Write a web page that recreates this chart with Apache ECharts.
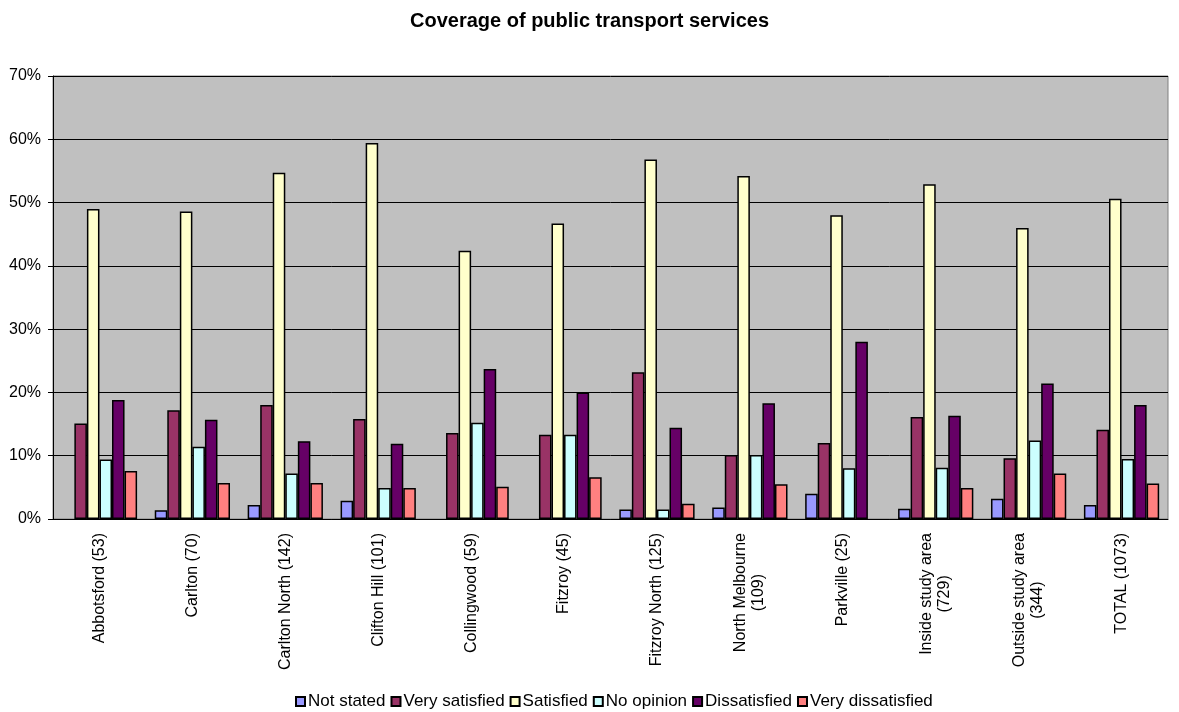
<!DOCTYPE html>
<html>
<head>
<meta charset="utf-8">
<script src="https://cdn.jsdelivr.net/npm/echarts@6/dist/echarts.min.js"></script>
<style>
  html, body { margin: 0; padding: 0; background: #ffffff; }
  #chart { width: 1179px; height: 712px; }
</style>
</head>
<body>
<div id="chart"></div>
<script>
// Suburbs surveyed (respondent counts in brackets)
const categories = [
  'Abbotsford (53)', 'Carlton (70)', 'Carlton North (142)', 'Clifton Hill (101)',
  'Collingwood (59)', 'Fitzroy (45)', 'Fitzroy North (125)', 'North Melbourne\n(109)',
  'Parkville (25)', 'Inside study area\n(729)', 'Outside study area\n(344)', 'TOTAL (1073)'
];

// Share of respondents (%) per response
const notStated        = [0,    1.4,  2.2,  2.9,  0,    0,    1.5,  1.8,  4.0,  1.6,  3.2,  2.2];
const verySatisfied    = [15.1, 17.2, 18.0, 15.8, 13.6, 13.3, 23.2, 10.1, 12.0, 16.1, 9.6,  14.1];
const satisfied        = [49.0, 48.6, 54.7, 59.4, 42.4, 46.7, 56.8, 54.2, 48.0, 52.9, 46.0, 50.6];
const noOpinion        = [9.4,  11.4, 7.2,  4.9,  15.2, 13.3, 1.5,  10.1, 8.0,  8.1,  12.4, 9.5];
const dissatisfied     = [18.8, 15.7, 12.3, 11.9, 23.7, 20.0, 14.4, 18.3, 28.0, 16.3, 21.4, 18.0];
const veryDissatisfied = [7.6,  5.7,  5.7,  4.9,  5.1,  6.6,  2.4,  5.5,  0,    4.9,  7.2,  5.6];

const yTicks = { min: 0, max: 70, step: 10 };

const seriesDefs = [
  { name: 'Not stated',        data: notStated,        color: '#9999FF' },
  { name: 'Very satisfied',    data: verySatisfied,    color: '#993366' },
  { name: 'Satisfied',         data: satisfied,        color: '#FFFFCC' },
  { name: 'No opinion',        data: noOpinion,        color: '#CCFFFF' },
  { name: 'Dissatisfied',      data: dissatisfied,     color: '#660066' },
  { name: 'Very dissatisfied', data: veryDissatisfied, color: '#FF8080' }
];

const FONT = '"Liberation Sans", Arial, sans-serif';

const chart = echarts.init(document.getElementById('chart'), null, { renderer: 'canvas' });

chart.setOption({
  animation: false,
  backgroundColor: '#ffffff',
  title: {
    text: 'Coverage of public transport services',
    left: 'center',
    top: 6,
    textStyle: { fontFamily: FONT, fontSize: 20, fontWeight: 'bold', color: '#000' }
  },
  legend: {
    top: 688,
    left: 290,
    icon: 'rect',
    itemWidth: 9,
    itemHeight: 9,
    itemGap: 5,
    textStyle: { fontFamily: FONT, fontSize: 17, color: '#000', padding: [0, 0, 0, -2] },
    data: seriesDefs.map(s => s.name)
  },
  grid: {
    left: 53, right: 11, top: 76, bottom: 193,
    show: true,
    backgroundColor: '#c0c0c0',
    borderColor: '#808080',
    borderWidth: 1
  },
  xAxis: {
    type: 'category',
    data: categories,
    axisLine: { lineStyle: { color: '#000', width: 1 } },
    axisTick: { length: 7, lineStyle: { color: '#000' } },
    axisLabel: {
      rotate: 90,
      margin: 14,
      interval: 0,
      color: '#000',
      fontFamily: FONT,
      fontSize: 16,
      formatter: v => v.split('\n').map(l => '{a|' + l + '}').join('\n'),
      rich: { a: { align: 'center', fontFamily: FONT, fontSize: 16, color: '#000', lineHeight: 18 } }
    }
  },
  yAxis: {
    type: 'value',
    min: yTicks.min,
    max: yTicks.max,
    interval: yTicks.step,
    axisLine: { show: true, lineStyle: { color: '#000', width: 1 } },
    axisTick: { show: true, length: 5, lineStyle: { color: '#000' } },
    axisLabel: {
      formatter: '{value}%',
      color: '#000',
      fontFamily: FONT,
      fontSize: 16,
      margin: 12
    },
    splitLine: { lineStyle: { color: '#000', width: 1 } }
  },
  series: seriesDefs.map(s => ({
    name: s.name,
    type: 'bar',
    // a zero share draws no bar at all
    data: s.data.map(v => (v === 0 ? null : v)),
    barGap: '0%',
    barCategoryGap: '19%',
    itemStyle: { color: s.color, borderColor: '#000', borderWidth: 1.5 }
  }))
});
</script>
</body>
</html>
